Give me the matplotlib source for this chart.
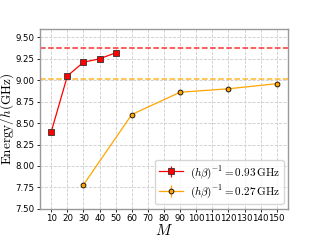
import matplotlib
matplotlib.use("Agg")
import matplotlib.pyplot as plt

plt.rcParams['mathtext.fontset'] = 'cm'

M_red = [10, 20, 30, 40, 50]
E_red = [8.40, 9.05, 9.21, 9.25, 9.32]
err_red = [0.02, 0.02, 0.03, 0.03, 0.03]
M_orange = [30, 60, 90, 120, 150]
E_orange = [7.78, 8.60, 8.86, 8.90, 8.96]
err_orange = [0.02, 0.02, 0.03, 0.03, 0.03]
h_red = 9.375
h_orange = 9.02
xticks = list(range(10, 160, 10))
yticks = [7.50, 7.75, 8.00, 8.25, 8.50, 8.75, 9.00, 9.25, 9.50]
labels = [r"$(h\beta)^{-1} = 0.93\,\mathrm{GHz}$", r"$(h\beta)^{-1} = 0.27\,\mathrm{GHz}$"]

fig = plt.figure(figsize=(3.2, 2.4), dpi=100)
ax = fig.add_axes([0.125, 0.13, 0.775, 0.75])

ax.errorbar(M_red, E_red, yerr=err_red, color='red', marker='s', markersize=4,
            markeredgecolor='#333333', markeredgewidth=0.6, lw=0.9, label=labels[0], zorder=3)
ax.errorbar(M_orange, E_orange, yerr=err_orange, color='orange', marker='o', markersize=3.5,
            markeredgecolor='black', markeredgewidth=0.6, lw=0.9, label=labels[1], zorder=3)
ax.axhline(h_red, color='red', ls='--', lw=1.1, alpha=0.8, zorder=2)
ax.axhline(h_orange, color='orange', ls='--', lw=1.1, alpha=0.8, zorder=2)

ax.set_xlim(3, 157)
ax.set_ylim(7.5, 9.6)
ax.set_xticks(xticks)
ax.set_yticks(yticks)
ax.set_yticklabels([f"{v:.2f}" for v in yticks])
ax.tick_params(labelsize=6.2, length=2.5, width=0.6, pad=1.5)
ax.grid(True, color='#cccccc', ls='--', lw=0.6)
for s in ax.spines.values():
    s.set_color('#999999')
    s.set_linewidth(1.0)

ax.set_xlabel(r"$M$", fontsize=11, labelpad=0)
ax.set_ylabel(r"$\mathrm{Energy}/h(\mathrm{GHz})$", fontsize=9.5)
ax.yaxis.set_label_coords(-0.095, 0.5)
ax.legend(loc='lower right', fontsize=8, handlelength=2.2, borderpad=0.35, labelspacing=0.25,
          handletextpad=0.6, framealpha=0.8, borderaxespad=0.4)

fig.savefig("out.png", dpi=100)
